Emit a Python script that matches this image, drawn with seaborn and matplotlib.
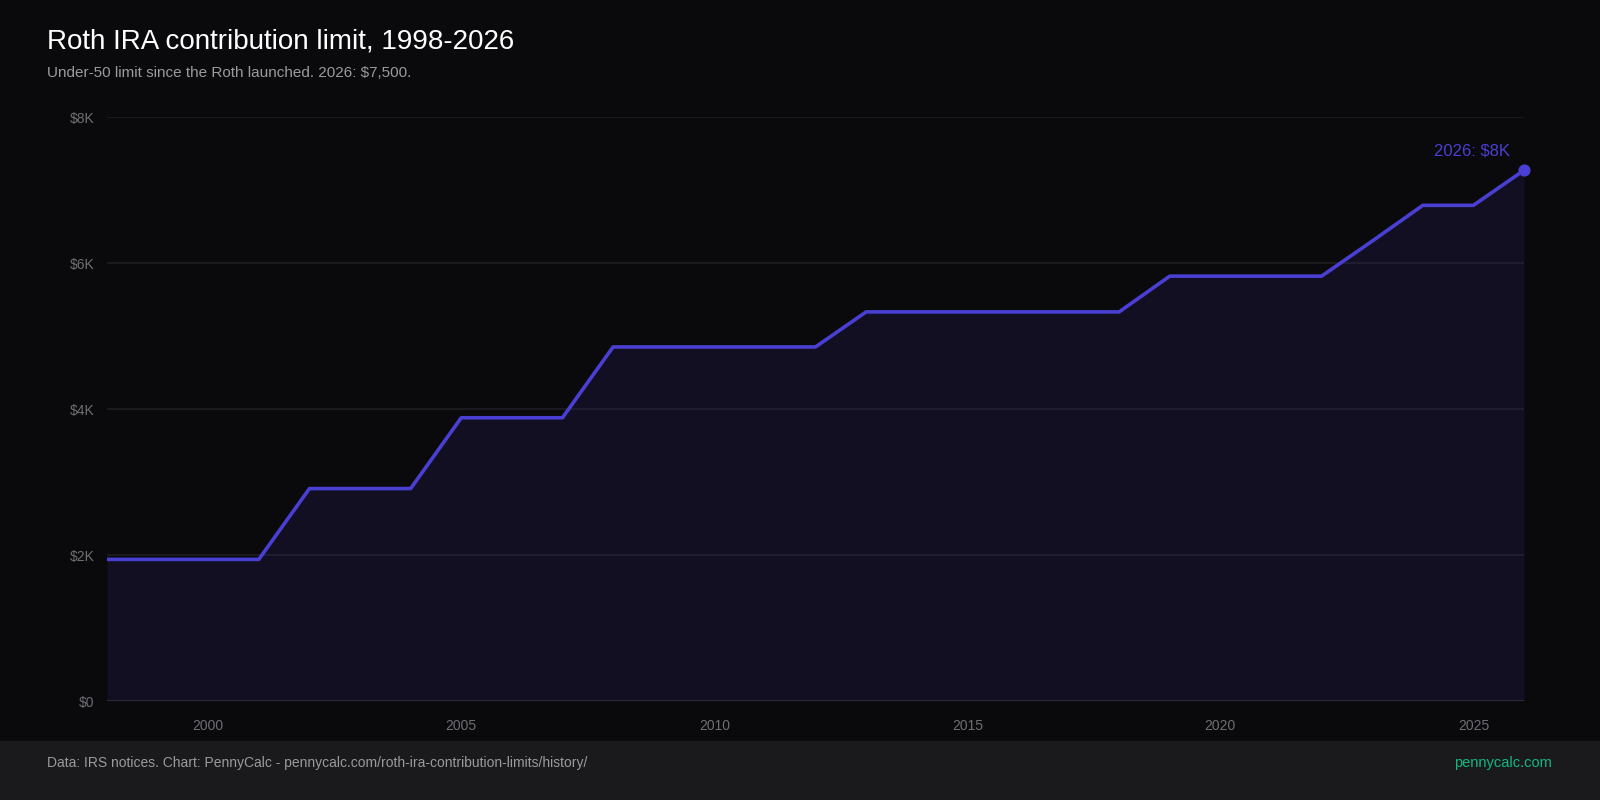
import matplotlib
matplotlib.use('Agg')
import matplotlib.pyplot as plt
import seaborn as sns
import pandas as pd
from matplotlib.patches import Rectangle

years = list(range(1998, 2027))
limits = [1940, 1940, 1940, 1940,
          2910, 2910, 2910,
          3880, 3880, 3880,
          4850, 4850, 4850, 4850, 4850,
          5330, 5330, 5330, 5330, 5330, 5330,
          5820, 5820, 5820, 5820,
          6300,
          6790, 6790,
          7270]
y_ticks = [0, 2000, 4000, 6000, 8000]
y_labels = ['$0', '$2K', '$4K', '$6K', '$8K']
x_ticks = [2000, 2005, 2010, 2015, 2020, 2025]

df = pd.DataFrame({'year': years, 'limit': limits})

bg = '#0a0a0c'
line_c = '#4a3fd3'

sns.set_style('dark')
plt.rcParams['font.family'] = ['Liberation Sans', 'DejaVu Sans']

fig = plt.figure(figsize=(16, 8), dpi=100, facecolor=bg)
ax = fig.add_axes([107/1600, 99/800, (1524-107)/1600, (701-117)/800])
ax.set_facecolor(bg)

# footer band
fig.patches.append(Rectangle((0, 0), 1, 59/800, transform=fig.transFigure,
                             facecolor='#1a1a1c', edgecolor='none', zorder=0))

for t in y_ticks[1:]:
    ax.axhline(t, color='#1d1d22', lw=1.2, zorder=1)

ax.fill_between(df['year'], df['limit'], 0, color=line_c, alpha=0.11, zorder=2, lw=0)
sns.lineplot(data=df, x='year', y='limit', ax=ax, color=line_c, lw=2.6, zorder=3)
ax.scatter([years[-1]], [limits[-1]], s=60, color=line_c, zorder=4, clip_on=False)
ax.annotate('2026: $8K', (years[-1], limits[-1]), xytext=(-10, 14),
            textcoords='offset points', ha='right', va='center',
            color=line_c, fontsize=12)
ax.axhline(0, color='#2b2a36', lw=1.5, zorder=3)

ax.set_xlim(1998, 2026)
ax.set_ylim(0, 8000)
ax.set_xticks(x_ticks)
ax.set_xticklabels([str(x) for x in x_ticks])
ax.set_yticks(y_ticks)
ax.set_yticklabels(y_labels)
ax.tick_params(axis='both', length=0, colors='#6e6e74', labelsize=10)
ax.tick_params(axis='x', pad=13)
ax.tick_params(axis='y', pad=9)
ax.grid(False)
ax.set_xlabel('')
ax.set_ylabel('')
for s in ax.spines.values():
    s.set_visible(False)

fig.text(47/1600, 1 - 42/800, 'Roth IRA contribution limit, 1998-2026',
         color='white', fontsize=20, va='center', ha='left')
fig.text(47/1600, 1 - 73/800, 'Under-50 limit since the Roth launched. 2026: $7,500.',
         color='#9a9aa0', fontsize=11, va='center', ha='left')
fig.text(47/1600, 1 - 763/800,
         'Data: IRS notices. Chart: PennyCalc - pennycalc.com/roth-ira-contribution-limits/history/',
         color='#9a9a9e', fontsize=10, va='center', ha='left')
fig.text(1552/1600, 1 - 763/800, 'pennycalc.com', color='#10b981',
         fontsize=10.5, va='center', ha='right')

fig.savefig('out.png', dpi=100, facecolor=bg)
